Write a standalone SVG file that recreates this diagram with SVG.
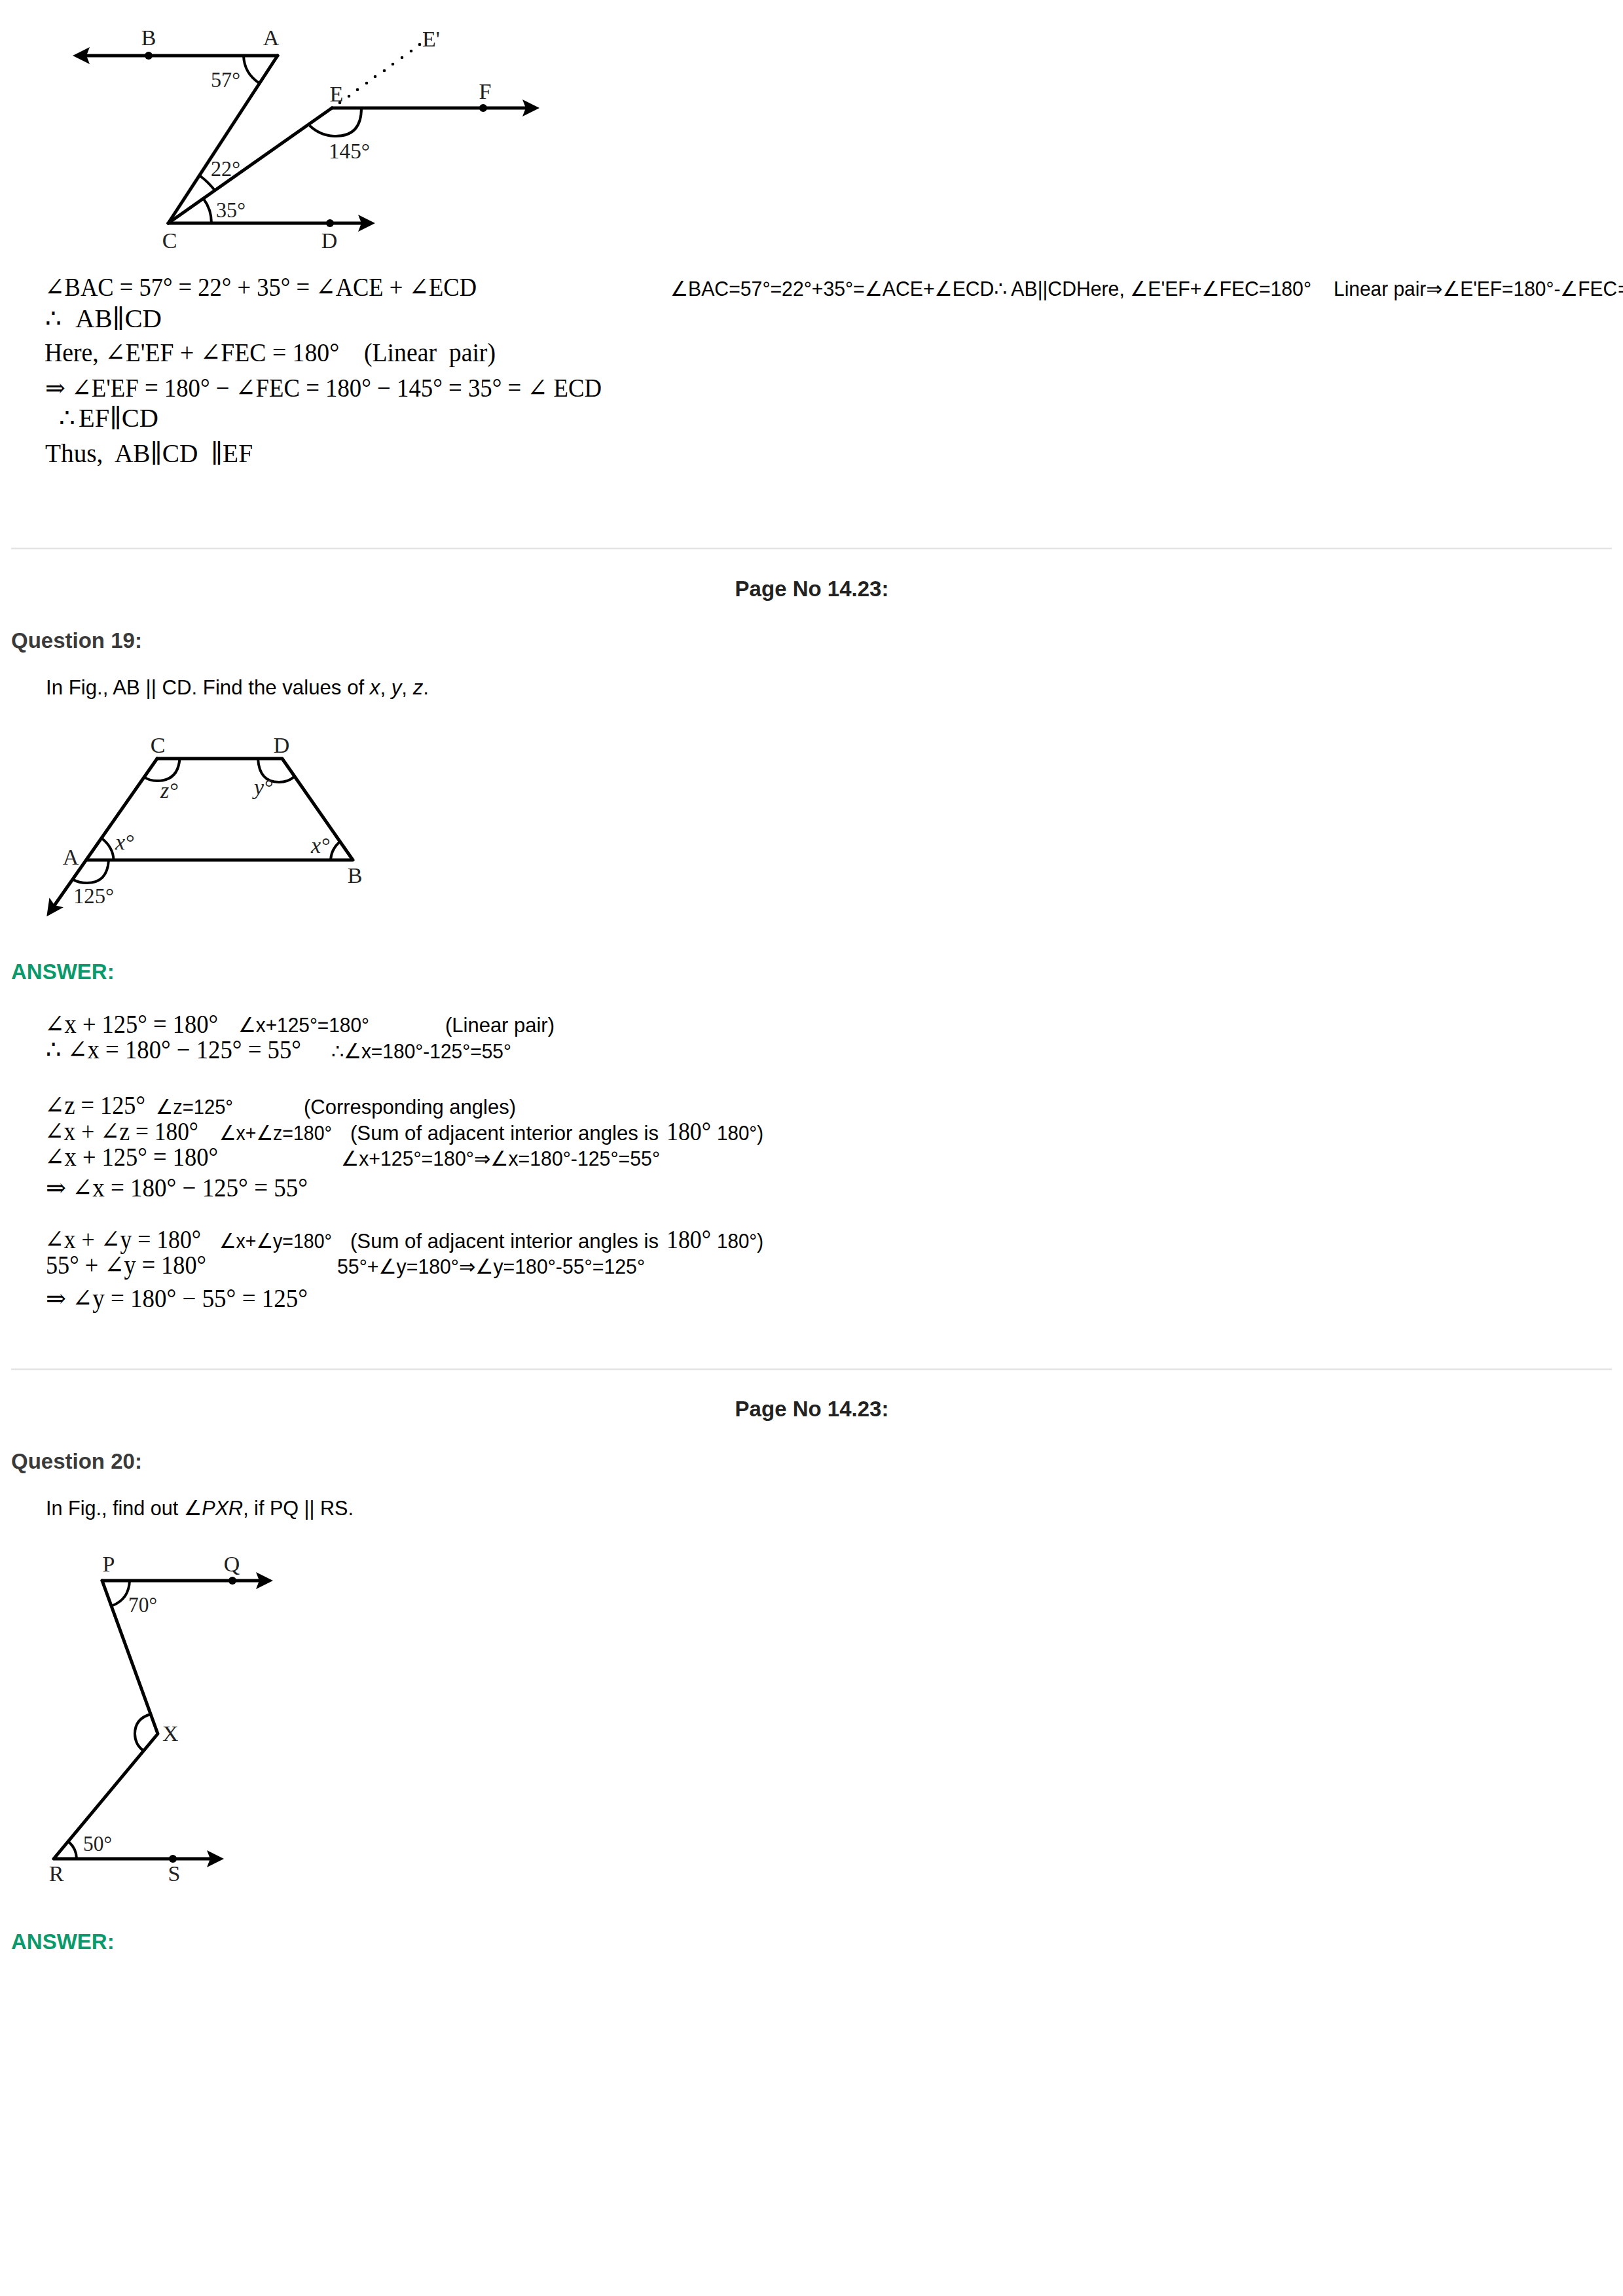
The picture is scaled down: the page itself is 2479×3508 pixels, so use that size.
<svg xmlns="http://www.w3.org/2000/svg" width="2479" height="3508" viewBox="0 0 2479 3508">
<style>
text{white-space:pre}
.m{font-family:"Liberation Serif","DejaVu Serif",serif;font-size:39px;fill:#000}
.a{font-family:"Liberation Sans","DejaVu Sans",sans-serif;font-size:31.500px;fill:#000}
.h{font-family:"Liberation Sans",sans-serif;font-size:33px;font-weight:700;fill:#3a3a3a}
.p{font-family:"Liberation Sans",sans-serif;font-size:33px;font-weight:700;fill:#222;text-anchor:middle}
.g{font-family:"Liberation Sans",sans-serif;font-size:33px;font-weight:700;fill:#0a9a6c}
.l{font-family:"Liberation Serif",serif;font-size:34px;fill:#222}
.c{text-anchor:middle}
.i{font-style:italic}
.s{fill:none;stroke:#000;stroke-width:5;stroke-linecap:round}
.t{fill:none;stroke:#000;stroke-width:4}
.hr{stroke:#e4e4e4;stroke-width:2.5}
</style>
<defs>
<marker id="arw" markerUnits="userSpaceOnUse" markerWidth="32" markerHeight="32" refX="16" refY="16" orient="auto"><path d="M0 3L26 16L0 29L5 16Z" fill="#000"/></marker>
</defs>
<g id="figure-1">
<g id="fig1-lines">
<path class="s" d="M424 85H121" marker-end="url(#arw)"/>
<path class="s" d="M424 85L257 341"/>
<path class="s" d="M257 341L507 165"/>
<path class="s" d="M507 165H814" marker-end="url(#arw)"/>
<path class="s" d="M257 341H563" marker-end="url(#arw)"/>
<path class="t" d="M372 85Q373 112 396 127"/>
<path class="t" d="M552 165Q552 208 513 208Q490 208 473 192"/>
<path class="t" d="M306 269Q319 279 329 292"/>
<path class="t" d="M311 304Q323 320 323 341"/>
<circle cx="227" cy="85" r="6"/><circle cx="738" cy="165" r="6"/><circle cx="504" cy="341" r="6"/>
<g id="fig1-dots"><circle cx="519" cy="157" r="2.300"/><circle cx="533" cy="147" r="2.300"/><circle cx="546" cy="137" r="2.300"/><circle cx="560" cy="127" r="2.300"/><circle cx="573" cy="117" r="2.300"/><circle cx="587" cy="108" r="2.300"/><circle cx="600" cy="98" r="2.300"/><circle cx="614" cy="88" r="2.300"/><circle cx="628" cy="78" r="2.300"/><circle cx="641" cy="68" r="2.300"/></g>
</g>
<text class="l c" x="227" y="69">B</text><text class="l c" x="414" y="69">A</text>
<text class="l" x="645" y="71">E'</text><text class="l c" x="514" y="155">E</text><text class="l c" x="741" y="151">F</text>
<text class="l c" x="259" y="379">C</text><text class="l c" x="503" y="379">D</text>
<text class="l" x="322" y="133" textLength="45" lengthAdjust="spacingAndGlyphs">57°</text><text class="l" x="502" y="242" textLength="63" lengthAdjust="spacingAndGlyphs">145°</text><text class="l" x="322" y="269" textLength="45" lengthAdjust="spacingAndGlyphs">22°</text><text class="l" x="330" y="332" textLength="45" lengthAdjust="spacingAndGlyphs">35°</text>
</g>
<g id="solution-18">
<text class="m" x="68" y="452" textLength="660" lengthAdjust="spacingAndGlyphs">∠BAC = 57° = 22° + 35° = ∠ACE + ∠ECD</text>
<text class="m" x="69" y="500">∴</text><text class="m" x="115" y="500" textLength="132" lengthAdjust="spacingAndGlyphs">AB∥CD</text>
<text class="m" x="68" y="552" textLength="689" lengthAdjust="spacingAndGlyphs">Here, ∠E'EF + ∠FEC = 180°    (Linear  pair)</text>
<text class="m" x="69" y="606" textLength="850" lengthAdjust="spacingAndGlyphs">⇒ ∠E'EF = 180° − ∠FEC = 180° − 145° = 35° = ∠ ECD</text>
<text class="m" x="90" y="652">∴</text><text class="m" x="120" y="652" textLength="122" lengthAdjust="spacingAndGlyphs">EF∥CD</text>
<text class="m" x="69" y="706" textLength="317" lengthAdjust="spacingAndGlyphs">Thus,  AB∥CD  ∥EF</text>
<text class="a" x="1024" y="452" textLength="979" lengthAdjust="spacingAndGlyphs">∠BAC=57°=22°+35°=∠ACE+∠ECD∴ AB||CDHere, ∠E'EF+∠FEC=180°</text>
<text class="a" x="2037" y="452" textLength="433" lengthAdjust="spacingAndGlyphs">Linear pair⇒∠E'EF=180°-∠FEC</text>
<text class="a" x="2471" y="452">=</text>
</g>
<line class="hr" x1="17" y1="838" x2="2462" y2="838"/>
<g id="question-19">
<text class="p" x="1240" y="911">Page No 14.23:</text>
<text class="h" x="17" y="990">Question 19:</text>
<text class="a" x="70" y="1061" textLength="585" lengthAdjust="spacingAndGlyphs">In Fig., AB || CD. Find the values of <tspan class="i">x</tspan>, <tspan class="i">y</tspan>, <tspan class="i">z</tspan>.</text>
</g>
<g id="figure-2">
<g id="fig2-lines">
<path class="s" d="M240 1159H431L539 1314H132" style="stroke-linejoin:round"/>
<path class="s" d="M240 1159L77 1392" marker-end="url(#arw)"/>
<path class="t" d="M274.500 1159Q272 1193 240 1193Q228 1193 220 1187"/>
<path class="t" d="M394 1159Q396 1195 426 1195Q440 1195 449 1187"/>
<path class="t" d="M173.500 1314Q173 1295 155.600 1281"/>
<path class="t" d="M166 1314Q164 1349 133 1349Q120 1349 112 1344"/>
<path class="t" d="M505 1314Q506 1298 518 1287"/>
</g>
<text class="l c" x="241" y="1150">C</text><text class="l c" x="430" y="1150">D</text><text class="l c" x="108" y="1321">A</text><text class="l c" x="542" y="1349">B</text>
<text class="l i" x="245" y="1219">z°</text><text class="l i" x="388" y="1214">y°</text><text class="l i" x="176" y="1298">x°</text><text class="l i" x="475" y="1303">x°</text>
<text class="l" x="112" y="1380" textLength="62" lengthAdjust="spacingAndGlyphs">125°</text>
</g>
<g id="answer-19">
<text class="g" x="17" y="1496">ANSWER:</text>
<text class="m" x="68" y="1578" textLength="265" lengthAdjust="spacingAndGlyphs">∠x + 125° = 180°</text>
<text class="a" x="364" y="1577" textLength="200" lengthAdjust="spacingAndGlyphs">∠x+125°=180°</text>
<text class="a" x="680" y="1577" textLength="167" lengthAdjust="spacingAndGlyphs">(Linear pair)</text>
<text class="m" x="70" y="1617" textLength="390" lengthAdjust="spacingAndGlyphs">∴ ∠x = 180° − 125° = 55°</text>
<text class="a" x="506" y="1617" textLength="275" lengthAdjust="spacingAndGlyphs">∴∠x=180°-125°=55°</text>
<text class="m" x="68" y="1702" textLength="154" lengthAdjust="spacingAndGlyphs">∠z = 125°</text>
<text class="a" x="238" y="1702" textLength="118" lengthAdjust="spacingAndGlyphs">∠z=125°</text>
<text class="a" x="464" y="1702" textLength="324" lengthAdjust="spacingAndGlyphs">(Corresponding angles)</text>
<text class="m" x="68" y="1742" textLength="235" lengthAdjust="spacingAndGlyphs">∠x + ∠z = 180°</text>
<text class="a" x="335" y="1742" textLength="172" lengthAdjust="spacingAndGlyphs">∠x+∠z=180°</text>
<text class="a" x="535" y="1742" textLength="471" lengthAdjust="spacingAndGlyphs">(Sum of adjacent interior angles is</text>
<text class="m" x="1018" y="1742" textLength="68" lengthAdjust="spacingAndGlyphs">180°</text>
<text class="a" x="1095" y="1742" textLength="71" lengthAdjust="spacingAndGlyphs">180°)</text>
<text class="m" x="68" y="1781" textLength="265" lengthAdjust="spacingAndGlyphs">∠x + 125° = 180°</text>
<text class="a" x="521" y="1781" textLength="487" lengthAdjust="spacingAndGlyphs">∠x+125°=180°⇒∠x=180°-125°=55°</text>
<text class="m" x="70" y="1828" textLength="400" lengthAdjust="spacingAndGlyphs">⇒ ∠x = 180° − 125° = 55°</text>
<text class="m" x="68" y="1907" textLength="239" lengthAdjust="spacingAndGlyphs">∠x + ∠y = 180°</text>
<text class="a" x="335" y="1907" textLength="172" lengthAdjust="spacingAndGlyphs">∠x+∠y=180°</text>
<text class="a" x="535" y="1907" textLength="471" lengthAdjust="spacingAndGlyphs">(Sum of adjacent interior angles is</text>
<text class="m" x="1018" y="1907" textLength="68" lengthAdjust="spacingAndGlyphs">180°</text>
<text class="a" x="1095" y="1907" textLength="71" lengthAdjust="spacingAndGlyphs">180°)</text>
<text class="m" x="70" y="1946" textLength="245" lengthAdjust="spacingAndGlyphs">55° + ∠y = 180°</text>
<text class="a" x="515" y="1946" textLength="470" lengthAdjust="spacingAndGlyphs">55°+∠y=180°⇒∠y=180°-55°=125°</text>
<text class="m" x="70" y="1997" textLength="400" lengthAdjust="spacingAndGlyphs">⇒ ∠y = 180° − 55° = 125°</text>
</g>
<line class="hr" x1="17" y1="2092" x2="2462" y2="2092"/>
<g id="question-20">
<text class="p" x="1240" y="2164">Page No 14.23:</text>
<text class="h" x="17" y="2244">Question 20:</text>
<text class="a" x="70" y="2315" textLength="470" lengthAdjust="spacingAndGlyphs">In Fig., find out <tspan class="i">∠PXR</tspan>, if PQ || RS.</text>
</g>
<g id="figure-3">
<g id="fig3-lines">
<path class="s" d="M156 2415H407" marker-end="url(#arw)"/>
<path class="s" d="M156 2415L241 2649L82 2840H332" style="stroke-linejoin:round" marker-end="url(#arw)"/>
<path class="t" d="M198 2415Q197 2443 172 2453"/>
<path class="t" d="M230 2619Q206 2626 206 2649Q206 2665 219 2675"/>
<path class="t" d="M117 2840Q117 2825 105 2814"/>
<circle cx="355" cy="2415" r="6"/><circle cx="264" cy="2840" r="6"/>
</g>
<text class="l c" x="166" y="2401">P</text><text class="l c" x="354" y="2401">Q</text><text class="l" x="196" y="2463" textLength="44" lengthAdjust="spacingAndGlyphs">70°</text><text class="l" x="248" y="2660">X</text>
<text class="l" x="127" y="2828" textLength="44" lengthAdjust="spacingAndGlyphs">50°</text><text class="l c" x="86" y="2874">R</text><text class="l c" x="266" y="2874">S</text>
</g>
<g id="answer-20"><text class="g" x="17" y="2978">ANSWER:</text></g>
</svg>
